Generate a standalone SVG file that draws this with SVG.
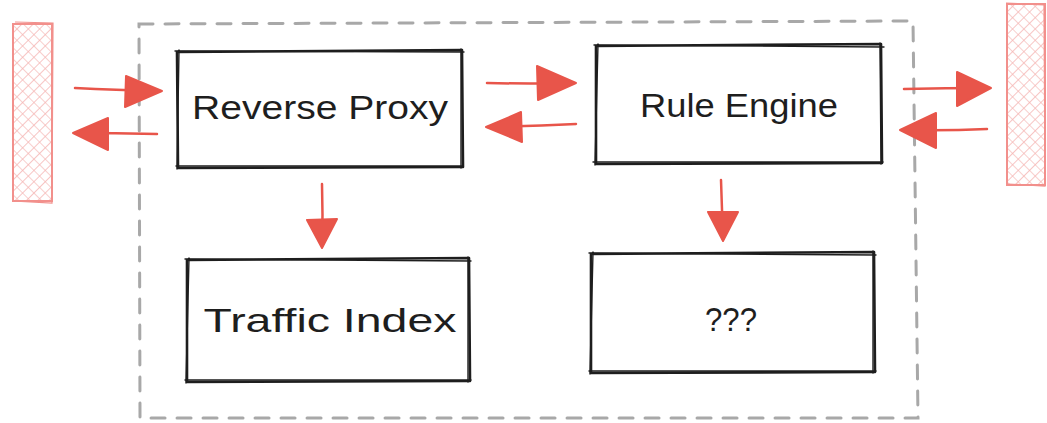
<svg xmlns="http://www.w3.org/2000/svg" width="1047" height="423" viewBox="0 0 1047 423">
  <style>
    .box { fill: none; stroke: #1e1e1e; stroke-width: 2.6; stroke-linecap: round; stroke-linejoin: round; }
    .box2 { fill: none; stroke: #1e1e1e; stroke-width: 1.4; stroke-linecap: round; }
    .frame { fill: none; stroke: #a8a8a8; stroke-width: 3; stroke-dasharray: 14 12; stroke-linecap: round; }
    .ext { fill: url(#hatch); stroke: #f2908c; stroke-width: 2; }
    .ext2 { fill: none; stroke: #f2908c; stroke-width: 1.2; }
    .shaft { fill: none; stroke: #e8554a; stroke-width: 2.5; stroke-linecap: round; }
    .head { fill: #e8554a; stroke: #e8554a; stroke-width: 2; stroke-linejoin: round; }
    .label { font-family: "Liberation Sans", "DejaVu Sans", sans-serif; font-size: 34px; fill: #1e1e1e; text-anchor: middle; }
  </style>
  <defs>
    <pattern id="hatch" width="8" height="8" patternUnits="userSpaceOnUse" patternTransform="rotate(45)">
      <line x1="0" y1="0" x2="0" y2="8" stroke="#f3a6a3" stroke-width="1.3"/>
      <line x1="0" y1="0" x2="8" y2="0" stroke="#f5b5b2" stroke-width="1.3"/>
    </pattern>
  </defs>

  <!-- system boundary -->
  <g id="boundary">
    <path class="frame" d="M139 24 L913 21 L918 418 L140 418 Z"/>
  </g>

  <!-- external clients (left) and upstream services (right) -->
  <g id="client">
    <rect class="ext" x="13" y="24" width="39" height="177"/>
    <path class="ext2" d="M15 22 L53 23 L52 203 L12 201"/>
  </g>
  <g id="upstream">
    <rect class="ext" x="1007" y="4" width="38" height="181"/>
    <path class="ext2" d="M1006 3 L1044 5 L1045 186 L1008 184"/>
  </g>

  <g id="reverse-proxy">
    <path class="box" d="M177 52 L462 50 L463 167 L178 168 Z"/>
    <path class="box2" d="M175 51 L464 52 M461 49 L461 168 M463 166 L176 166 M179 50 L177 169"/>
    <text class="label" x="320" y="119" textLength="256" lengthAdjust="spacingAndGlyphs">Reverse Proxy</text>
  </g>

  <g id="rule-engine">
    <path class="box" d="M596 46 L881 44 L882 163 L596 164 Z"/>
    <path class="box2" d="M594 45 L884 47 M880 43 L881 164 M883 162 L593 162 M598 44 L595 165"/>
    <text class="label" x="739" y="117" textLength="198" lengthAdjust="spacingAndGlyphs">Rule Engine</text>
  </g>

  <g id="traffic-index">
    <path class="box" d="M187 260 L469 258 L470 381 L187 382 Z"/>
    <path class="box2" d="M185 259 L471 261 M468 257 L468 382 M471 380 L185 380 M189 258 L186 383"/>
    <text class="label" x="330" y="332" textLength="253" lengthAdjust="spacingAndGlyphs">Traffic Index</text>
  </g>

  <g id="unknown">
    <path class="box" d="M591 254 L874 252 L875 372 L591 373 Z"/>
    <path class="box2" d="M589 253 L876 255 M873 251 L873 373 M876 371 L589 371 M593 252 L590 374"/>
    <text class="label" x="731" y="331" textLength="52" lengthAdjust="spacingAndGlyphs">???</text>
  </g>

  <!-- request / response flows -->
  <g id="connectors">
    <path class="shaft" d="M75 88 Q115 90 160 91"/>
    <path class="head" d="M162 91 L126 76 L125 107 Z"/>

    <path class="shaft" d="M157 134 Q115 133 75 133"/>
    <path class="head" d="M73 133 L108 118 L108 150 Z"/>

    <path class="shaft" d="M487 83 Q530 84 574 83"/>
    <path class="head" d="M576 83 L537 66 L538 100 Z"/>

    <path class="shaft" d="M576 124 Q530 126 488 127"/>
    <path class="head" d="M486 127 L521 112 L522 142 Z"/>

    <path class="shaft" d="M904 89 Q945 88 989 88"/>
    <path class="head" d="M991 88 L957 72 L957 106 Z"/>

    <path class="shaft" d="M987 129 Q945 131 902 130"/>
    <path class="head" d="M900 130 L936 113 L936 148 Z"/>

    <path class="shaft" d="M322 184 Q323 215 322 246"/>
    <path class="head" d="M322 248 L307 220 L337 219 Z"/>

    <path class="shaft" d="M721 180 Q722 210 723 239"/>
    <path class="head" d="M723 241 L708 212 L738 212 Z"/>
  </g>
</svg>
